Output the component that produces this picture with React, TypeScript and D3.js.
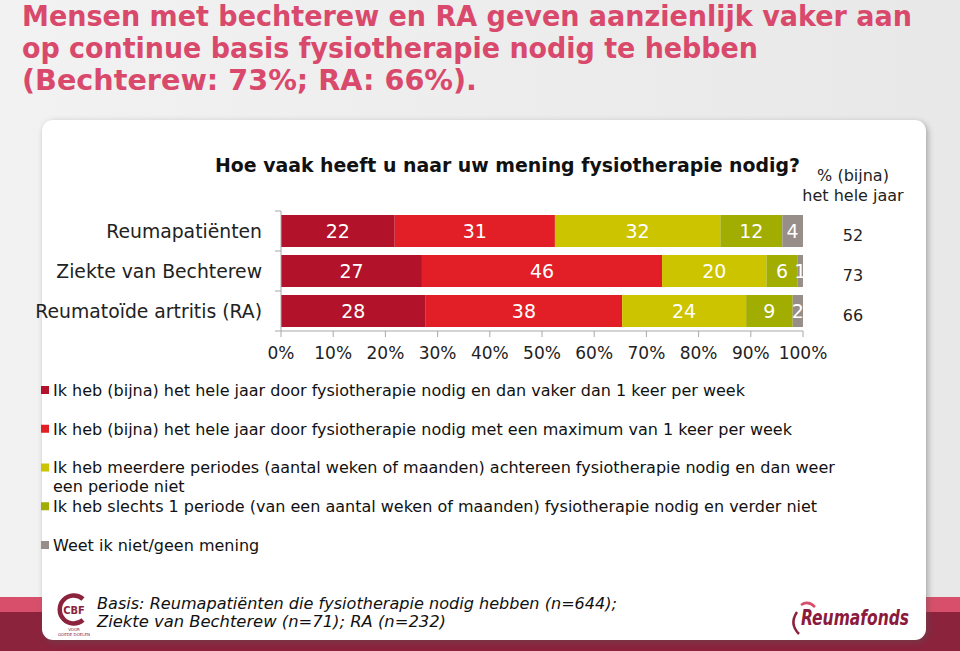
import React from "react";
import * as d3 from "d3";

const titleLines = [
  "Mensen met bechterew en RA geven aanzienlijk vaker aan",
  "op continue basis fysiotherapie nodig te hebben",
  "(Bechterew: 73%; RA: 66%).",
];
const chartTitle = "Hoe vaak heeft u naar uw mening fysiotherapie nodig?";
const categories = ["Reumapatiënten", "Ziekte van Bechterew", "Reumatoïde artritis (RA)"];

const seriesKeys = ["s1", "s2", "s3", "s4", "s5"];
const seriesLabels: string[][] = [
  ["Ik heb (bijna) het hele jaar door fysiotherapie nodig en dan vaker dan 1 keer per week"],
  ["Ik heb (bijna) het hele jaar door fysiotherapie nodig met een maximum van 1 keer per week"],
  ["Ik heb meerdere periodes (aantal weken of maanden) achtereen fysiotherapie nodig en dan weer", "een periode niet"],
  ["Ik heb slechts 1 periode (van een aantal weken of maanden) fysiotherapie nodig en verder niet"],
  ["Weet ik niet/geen mening"],
];
const heleJaarVaker = [22, 27, 28];
const heleJaarMax1 = [31, 46, 38];
const meerderePeriodes = [32, 20, 24];
const eenPeriode = [12, 6, 9];
const weetNiet = [4, 1, 2];
const heleJaarTotaal = [52, 73, 66];
const sideHeader = ["% (bijna)", "het hele jaar"];
const xTickValues = [0, 0.1, 0.2, 0.3, 0.4, 0.5, 0.6, 0.7, 0.8, 0.9, 1];
const footnote = [
  "Basis: Reumapatiënten die fysiotherapie nodig hebben (n=644);",
  "Ziekte van Bechterew (n=71); RA (n=232)",
];
const colors = ["#B2122A", "#E21F26", "#CDC400", "#A1AD00", "#978D89"];

const W = 960;
const H = 651;
const FONT = "'DejaVu Sans', Verdana, sans-serif";
const COND = "'DejaVu Sans Condensed', 'DejaVu Sans', sans-serif";

export default function App() {
  const table = categories.map((c, i) => ({
    cat: c,
    s1: heleJaarVaker[i],
    s2: heleJaarMax1[i],
    s3: meerderePeriodes[i],
    s4: eenPeriode[i],
    s5: weetNiet[i],
  }));
  const stacked = d3.stack<any>().keys(seriesKeys).offset(d3.stackOffsetExpand)(table);

  const x = d3.scaleLinear().domain([0, 1]).range([281, 803]);
  const y = d3.scaleBand<string>().domain(categories).range([211, 331]).paddingInner(0.2).paddingOuter(0.1);
  const [y0, y1] = y.range();
  const bandEdges = d3.range(categories.length + 1).map((i) => y0 + i * y.step());
  const legendY = d3.scaleLinear().domain([0, 4]).range([390, 545]);

  return (
    <svg width={W} height={H} style={{ position: "absolute", left: 0, top: 0, display: "block" }}>
      <defs>
        <filter id="sh" x="-5%" y="-5%" width="110%" height="110%">
          <feGaussianBlur stdDeviation="3" />
        </filter>
        <linearGradient id="bg" x1="0" x2="1" y1="0" y2="0">
          <stop offset="0" stopColor="#F2F2F2" />
          <stop offset="1" stopColor="#E8E8E8" />
        </linearGradient>
      </defs>
      <rect x={0} y={0} width={W} height={H} fill="url(#bg)" />
      {/* bottom bands */}
      <rect x={0} y={597} width={W} height={16} fill="#D84F6B" />
      <rect x={0} y={612} width={W} height={H - 612} fill="#8B233D" />
      {/* panel */}
      <rect x={44} y={122} width={884} height={520} rx={11} fill="#555" opacity={0.45} filter="url(#sh)" />
      <rect x={42} y={120} width={884} height={520} rx={11} fill="#FFFFFF" />

      {/* title */}
      {titleLines.map((t, i) => (
        <text
          key={i}
          x={22}
          y={26 + i * 32}
          fill="#D9496C"
          fontFamily={COND}
          fontWeight="bold"
          fontSize={27.5}
          textLength={[890, 736, 455][i]}
          lengthAdjust="spacingAndGlyphs"
        >
          {t}
        </text>
      ))}

      {/* chart title */}
      <text x={215} y={172} fontFamily={FONT} fontWeight="bold" fontSize={19.5} fill="#111" textLength={585} lengthAdjust="spacingAndGlyphs">
        {chartTitle}
      </text>
      {sideHeader.map((t, i) => (
        <text key={i} x={853} y={181 + i * 20} textAnchor="middle" fontFamily={FONT} fontSize={16} fill="#222">
          {t}
        </text>
      ))}

      {/* bars */}
      {stacked.map((s, si) => (
        <g key={s.key}>
          {s.map((d, i) => (
            <rect
              key={i}
              x={x(d[0])}
              y={y(categories[i])!}
              width={x(d[1]) - x(d[0])}
              height={y.bandwidth()}
              fill={colors[si]}
            />
          ))}
          {s.map((d, i) => (
            <text
              key={"t" + i}
              x={(x(d[0]) + x(d[1])) / 2}
              y={y(categories[i])! + y.bandwidth() / 2}
              dy="0.36em"
              textAnchor="middle"
              fontFamily={FONT}
              fontSize={19}
              fill="#FFFFFF"
            >
              {(d.data as any)[s.key]}
            </text>
          ))}
        </g>
      ))}

      {/* y axis */}
      <line x1={281} x2={281} y1={y0} y2={y1} stroke="#A8A8A8" />
      {bandEdges.map((e, i) => (
        <line key={i} x1={275} x2={281} y1={e} y2={e} stroke="#A8A8A8" />
      ))}
      {categories.map((c) => (
        <text
          key={c}
          x={262}
          y={y(c)! + y.bandwidth() / 2}
          dy="0.36em"
          textAnchor="end"
          fontFamily={FONT}
          fontSize={18.8}
          fill="#222"
        >
          {c}
        </text>
      ))}
      {/* x axis */}
      <line x1={x(0)} x2={x(1)} y1={y1} y2={y1} stroke="#A8A8A8" />
      {xTickValues.map((t) => (
        <g key={t}>
          <line x1={x(t)} x2={x(t)} y1={y1} y2={y1 + 6} stroke="#A8A8A8" />
          <text x={x(t)} y={353} dy="0.36em" textAnchor="middle" fontFamily={FONT} fontSize={17} fill="#222">
            {d3.format(".0%")(t)}
          </text>
        </g>
      ))}

      {/* right column totals */}
      {heleJaarTotaal.map((v, i) => (
        <text
          key={i}
          x={853}
          y={y(categories[i])! + y.bandwidth() / 2 + 4}
          dy="0.36em"
          textAnchor="middle"
          fontFamily={FONT}
          fontSize={16}
          fill="#222"
        >
          {v}
        </text>
      ))}

      {/* legend */}
      {seriesLabels.map((lines, i) => (
        <g key={i}>
          <rect x={41} y={legendY(i) - 4} width={8} height={8} fill={colors[i]} />
          {lines.map((l, j) => (
            <text key={j} x={53} y={legendY(i) + j * 19} dy="0.36em" fontFamily={FONT} fontSize={16} fill="#111">
              {l}
            </text>
          ))}
        </g>
      ))}

      {/* footnote */}
      {footnote.map((t, i) => (
        <text
          key={i}
          x={97}
          y={609 + i * 18}
          fontFamily={FONT}
          fontStyle="italic"
          fontSize={16}
          fill="#111"
          textLength={[520, 349][i]}
          lengthAdjust="spacingAndGlyphs"
        >
          {t}
        </text>
      ))}

      {/* CBF logo */}
      <g>
        <path d="M 83 599 A 14 14 0 1 0 83 620" fill="none" stroke="#8B233D" strokeWidth={4.5} />
        <text x={74} y={614} textAnchor="middle" fontFamily={COND} fontWeight="bold" fontSize={11} fill="#8B233D">CBF</text>
        <text x={74} y={631} textAnchor="middle" fontFamily={FONT} fontSize={4} fill="#8B233D">VOOR</text>
        <text x={74} y={636} textAnchor="middle" fontFamily={FONT} fontSize={4} fill="#8B233D">GOEDE DOELEN</text>
      </g>

      {/* Reumafonds logo */}
      <g>
        <path d="M 801 605 Q 808 600 815 607" fill="none" stroke="#D84F6B" strokeWidth={2.5} />
        <path d="M 797 612 Q 789 624 799 634" fill="none" stroke="#8B233D" strokeWidth={2.5} />
        <text
          x={801}
          y={625}
          fontFamily={COND}
          fontWeight="bold"
          fontStyle="italic"
          fontSize={21}
          fill="#8B1A3C"
          textLength={108}
          lengthAdjust="spacingAndGlyphs"
        >
          Reumafonds
        </text>
      </g>
    </svg>
  );
}
